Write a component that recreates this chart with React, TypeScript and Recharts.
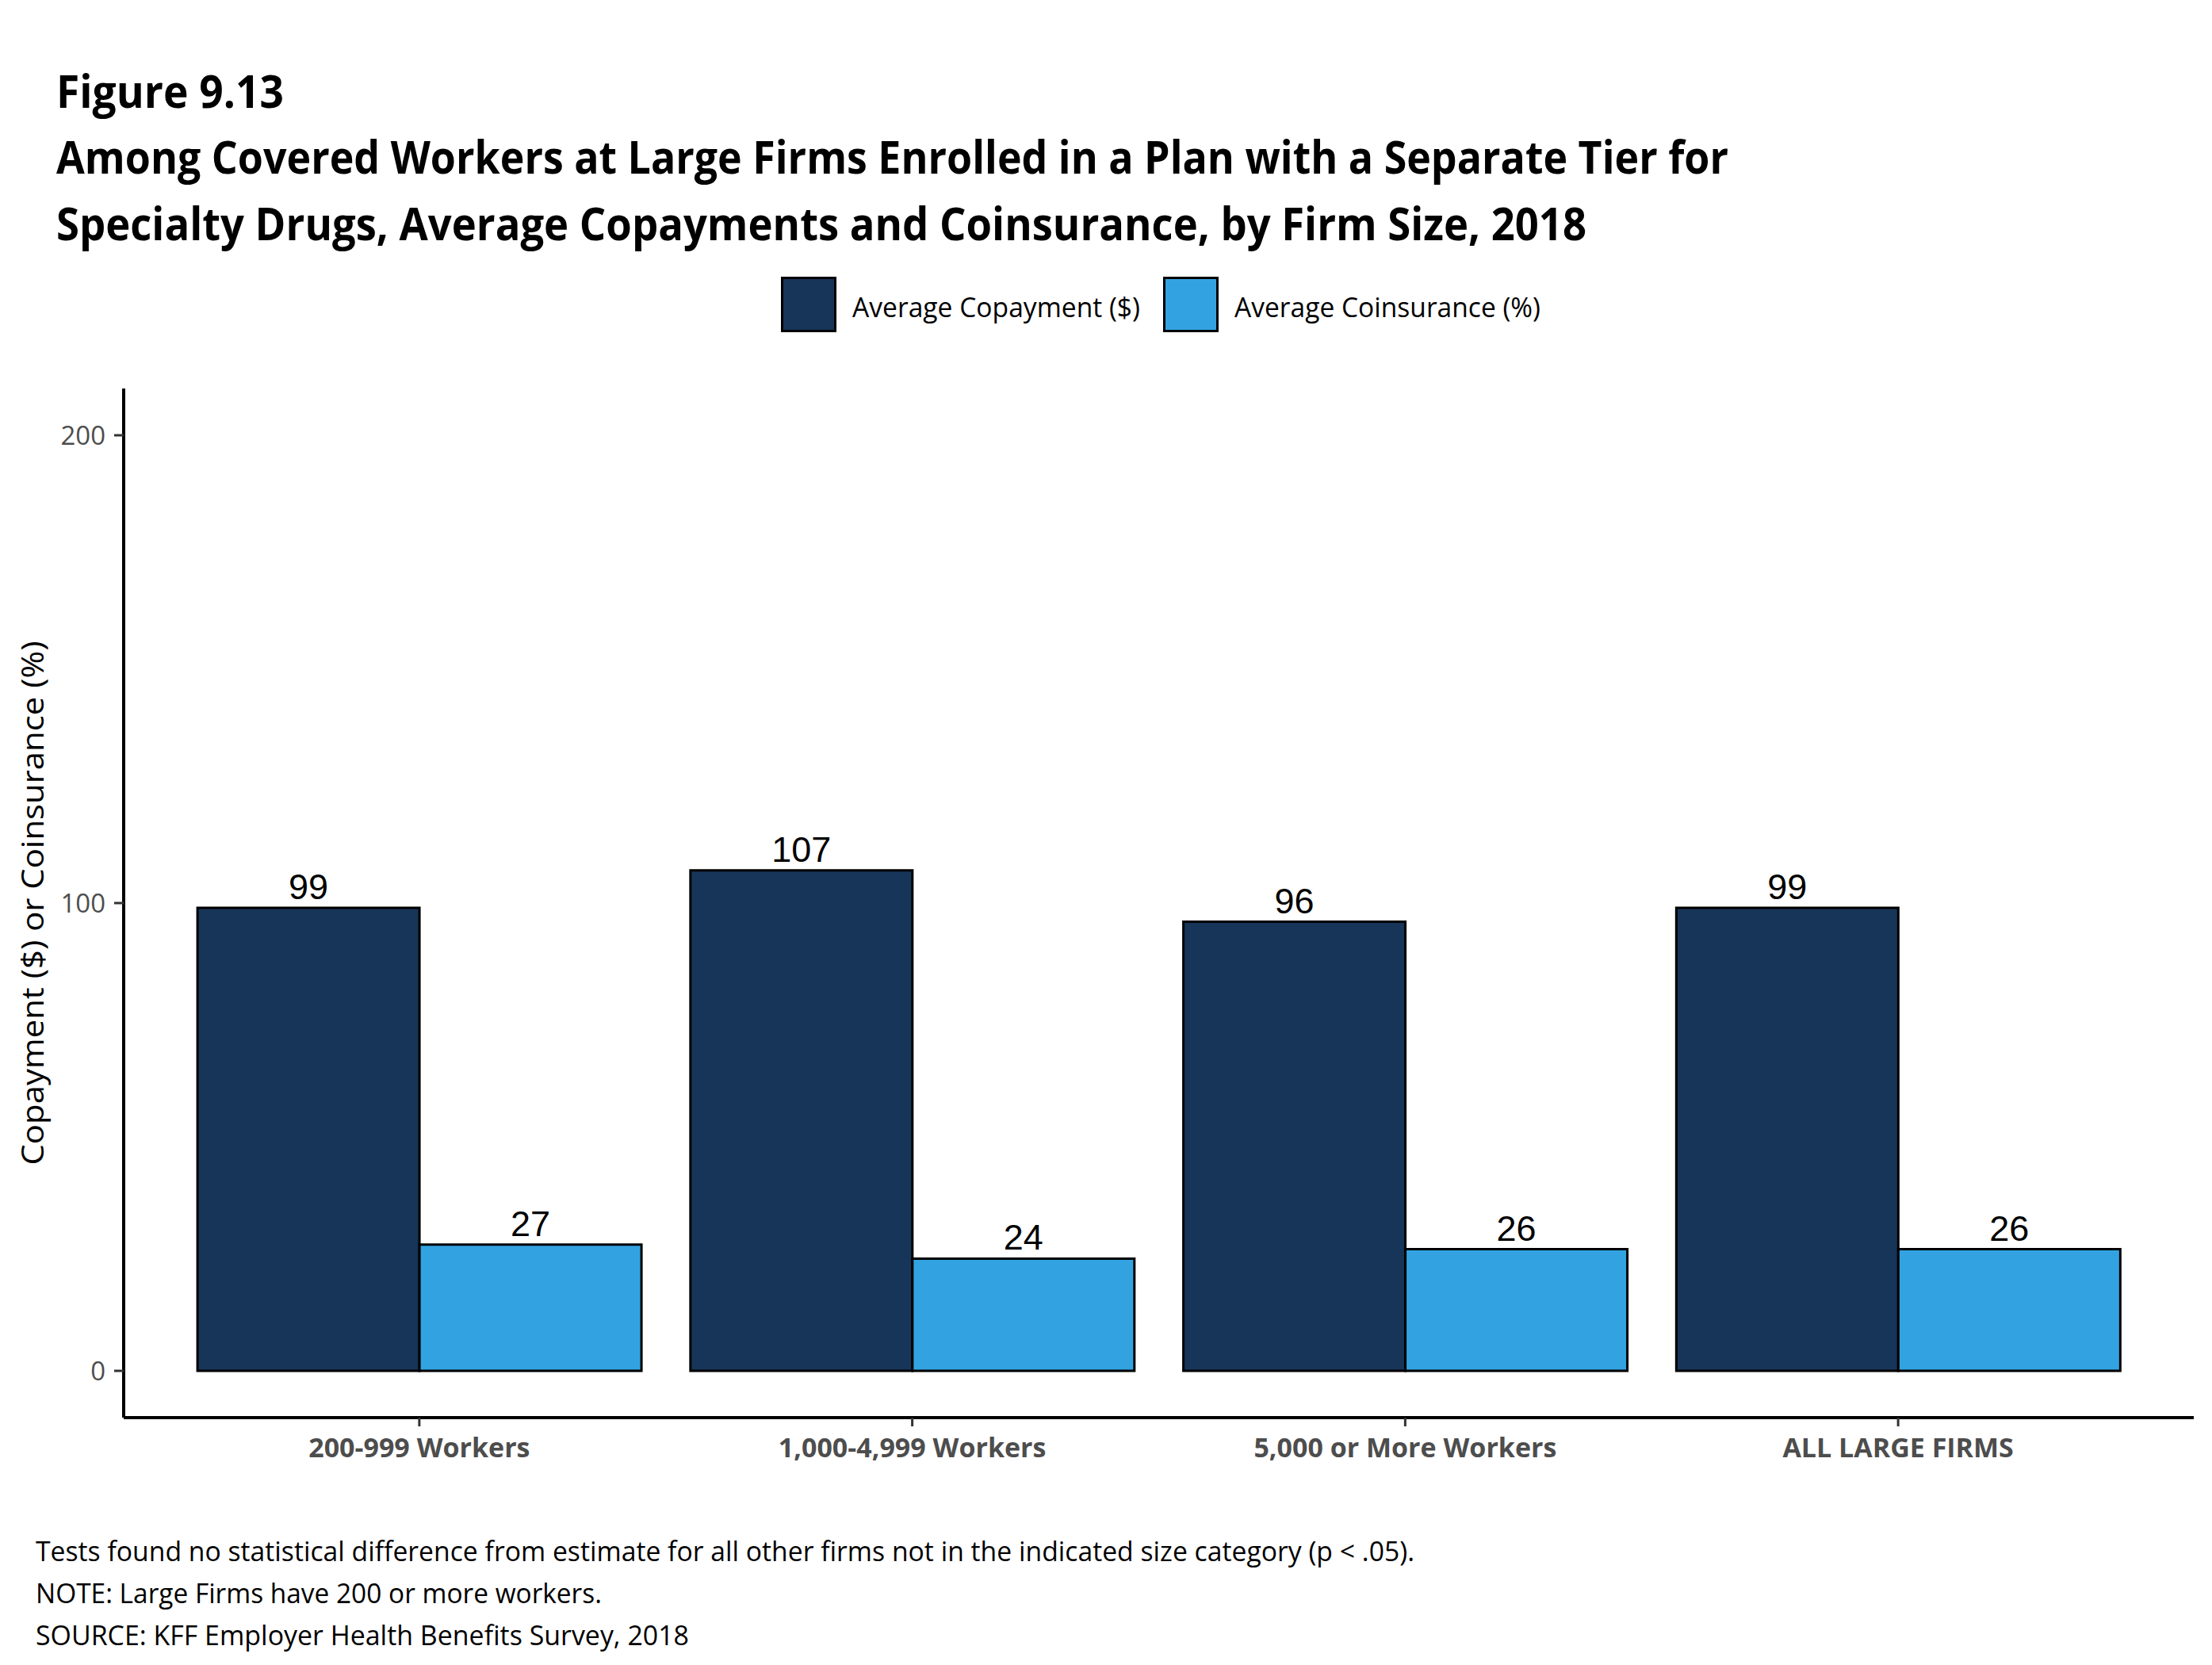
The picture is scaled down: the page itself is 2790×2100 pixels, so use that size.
import { BarChart, Bar, XAxis, YAxis, LabelList } from 'recharts'

const categories = ['200-999 Workers', '1,000-4,999 Workers', '5,000 or More Workers', 'ALL LARGE FIRMS']
const copayment = [99, 107, 96, 99]
const coinsurance = [27, 24, 26, 26]
const seriesNames = ['Average Copayment ($)', 'Average Coinsurance (%)']
const seriesColors = ['#163558', '#32a3e0']
const yTicks = [0, 100, 200]

const titleLines = [
  'Figure 9.13',
  'Among Covered Workers at Large Firms Enrolled in a Plan with a Separate Tier for',
  'Specialty Drugs, Average Copayments and Coinsurance, by Firm Size, 2018',
]
const notes = [
  'Tests found no statistical difference from estimate for all other firms not in the indicated size category (p < .05).',
  'NOTE: Large Firms have 200 or more workers.',
  'SOURCE: KFF Employer Health Benefits Survey, 2018',
]
const yTitle = 'Copayment ($) or Coinsurance (%)'

const data = categories.map((name, i) => ({ name, copay: copayment[i], coins: coinsurance[i] }))

const W = 2790
const H = 2100
const FONT = '"Open Sans", "Noto Sans", sans-serif'

// layout (page pixels)
const titleBase = [136, 219, 303]
const titleWidth = [287, 2109, 1930]
const legendX = [985, 1467]
const legendTextW = [363, 386]
const noteBase = [1969, 2022, 2075]
const noteWidth = [1739, 714, 824]

export default function App() {
  return (
    <div style={{ position: 'absolute', left: 0, top: 0, width: W, height: H, background: '#fff', overflow: 'hidden' }}>
      <div style={{ position: 'absolute', left: 0, top: 0 }}>
        <BarChart
          width={W}
          height={H}
          data={data}
          margin={{ top: 490, right: 23, bottom: 232, left: 56 }}
          barCategoryGap="5%"
          barGap={0}
        >
          <XAxis
            dataKey="name"
            height={80}
            padding={{ left: 62, right: 62 }}
            axisLine={{ stroke: '#000', strokeWidth: 4 }}
            tickLine={{ stroke: '#333', strokeWidth: 3 }}
            tickSize={11}
            tickMargin={15}
            tick={{ fontSize: 34, fontWeight: 700, fill: '#4d4d4d', fontFamily: FONT }}
            interval={0}
          />
          <YAxis
            type="number"
            width={100}
            domain={[-10, 210]}
            allowDataOverflow
            ticks={yTicks}
            axisLine={{ stroke: '#000', strokeWidth: 4 }}
            tickLine={{ stroke: '#333', strokeWidth: 3 }}
            tickSize={12}
            tickMargin={11}
            tick={{ fontSize: 33, fill: '#4d4d4d', fontFamily: FONT }}
          />
          <Bar dataKey="copay" name={seriesNames[0]} fill={seriesColors[0]} stroke="#000" strokeWidth={3} isAnimationActive={false}>
            <LabelList dataKey="copay" position="top" offset={11} fill="#000" fontSize={45} fontFamily='"Liberation Sans", Arial, sans-serif' />
          </Bar>
          <Bar dataKey="coins" name={seriesNames[1]} fill={seriesColors[1]} stroke="#000" strokeWidth={3} isAnimationActive={false}>
            <LabelList dataKey="coins" position="top" offset={11} fill="#000" fontSize={45} fontFamily='"Liberation Sans", Arial, sans-serif' />
          </Bar>
        </BarChart>
      </div>
      <svg width={W} height={H} style={{ position: 'absolute', left: 0, top: 0, pointerEvents: 'none' }}>
        {titleLines.map((t, i) => (
          <text
            key={t}
            x={71}
            y={titleBase[i]}
            fontFamily={FONT}
            fontWeight={700}
            fontSize={57}
            fill="#000"
            textLength={titleWidth[i]}
            lengthAdjust="spacingAndGlyphs"
          >
            {t}
          </text>
        ))}
        {seriesNames.map((s, i) => (
          <g key={s}>
            <rect x={legendX[i] + 1.5} y={350.5} width={67} height={67} fill={seriesColors[i]} stroke="#000" strokeWidth={3} />
            <text
              x={legendX[i] + 90}
              y={400}
              fontFamily={FONT}
              fontSize={35}
              fill="#000"
              textLength={legendTextW[i]}
              lengthAdjust="spacingAndGlyphs"
            >
              {s}
            </text>
          </g>
        ))}
        <text
          transform="translate(55,1139) rotate(-90)"
          textAnchor="middle"
          fontFamily={FONT}
          fontSize={39}
          fill="#000"
          textLength={661}
          lengthAdjust="spacingAndGlyphs"
        >
          {yTitle}
        </text>
        {notes.map((n, i) => (
          <text
            key={n}
            x={45}
            y={noteBase[i]}
            fontFamily={FONT}
            fontSize={35}
            fill="#000"
            textLength={noteWidth[i]}
            lengthAdjust="spacingAndGlyphs"
          >
            {n}
          </text>
        ))}
      </svg>
    </div>
  )
}
